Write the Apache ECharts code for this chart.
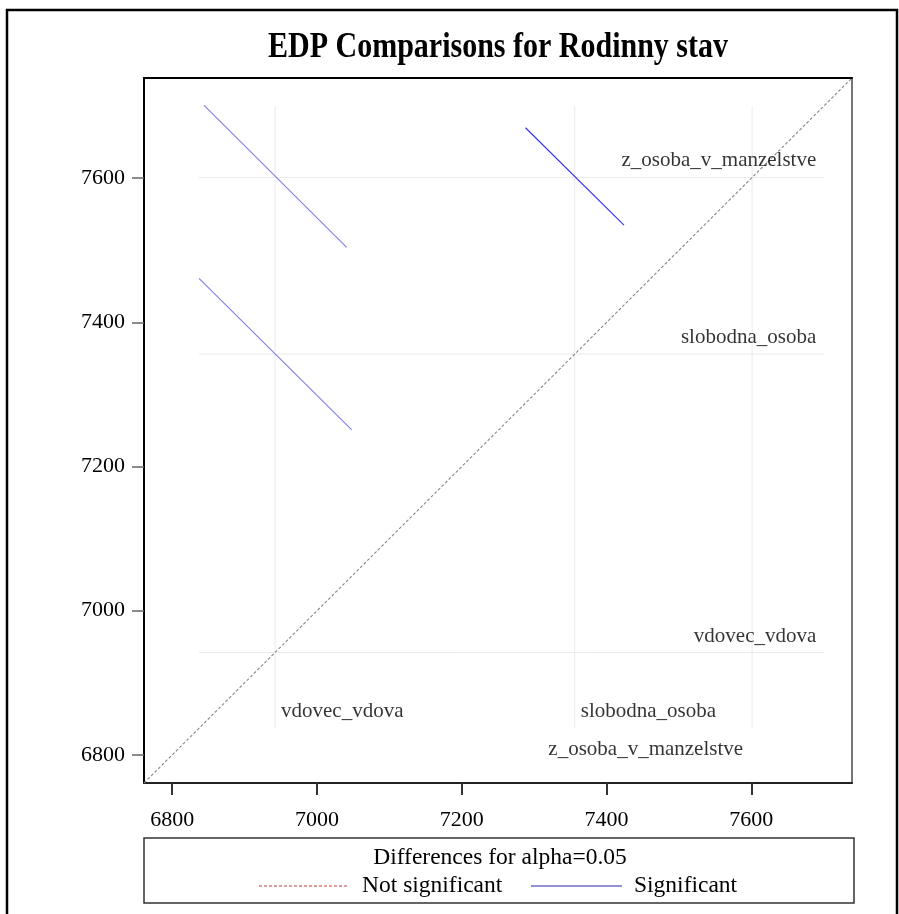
<!DOCTYPE html>
<html>
<head>
<meta charset="utf-8">
<script src="https://cdn.jsdelivr.net/npm/echarts@6/dist/echarts.min.js"></script>
<style>
  html, body { margin: 0; padding: 0; background: #fff; }
  #chart { width: 899px; height: 914px; }
</style>
</head>
<body>
<div id="chart"></div>
<script>
// Axis extent shared by both axes (square diffogram) and tick positions
const axisRange = [6761, 7739];
const tickValues = [6800, 7000, 7200, 7400, 7600];

// Group LS-means and their labels
const groupNames = ['vdovec_vdova', 'slobodna_osoba', 'z_osoba_v_manzelstve'];
const groupMeans = [6942, 7356, 7601];

// Extent of the light reference lines drawn at each mean
const refLineExtent = [6837, 7700];

// Significant pairwise comparison segments: start and end points
const segStartX = [6844, 6837, 7288];
const segStartY = [7701, 7461, 7670];
const segEndX   = [7041, 7048, 7424];
const segEndY   = [7504, 7251, 7535];
const segColors = ['#7e7eea', '#7e7eea', '#2f2fee'];

const serif = '"Liberation Serif", "Times New Roman", serif';
const labelSize = 21;
const legendSize = 23.5;

const series = [];

// Light reference lines at each mean (horizontal and vertical)
groupMeans.forEach(function (m) {
  series.push({
    type: 'line', silent: true, symbol: 'none', z: 1,
    data: [[refLineExtent[0], m], [refLineExtent[1], m]],
    lineStyle: { color: '#ebebeb', width: 1 }
  });
  series.push({
    type: 'line', silent: true, symbol: 'none', z: 1,
    data: [[m, refLineExtent[0]], [m, refLineExtent[1]]],
    lineStyle: { color: '#ebebeb', width: 1 }
  });
});

// Diagonal y = x
series.push({
  type: 'line', silent: true, symbol: 'none', z: 2,
  data: [[axisRange[0], axisRange[0]], [axisRange[1], axisRange[1]]],
  lineStyle: { color: '#888888', width: 1.1, type: [3, 2] }
});

// Comparison segments
segStartX.forEach(function (x0, i) {
  series.push({
    type: 'line', silent: true, symbol: 'none', z: 3,
    color: segColors[i],
    itemStyle: { color: segColors[i] },
    data: [[x0, segStartY[i]], [segEndX[i], segEndY[i]]],
    lineStyle: { color: segColors[i], width: 1.1, opacity: 1 }
  });
});

// Group labels along the right end of horizontal reference lines
series.push({
  type: 'scatter', silent: true, symbolSize: 0, z: 4,
  data: groupMeans.map(function (m, i) { return { value: [refLineExtent[1], m], name: groupNames[i] }; }),
  label: {
    show: true, position: 'left', distance: 0, offset: [-7.5, -16.5],
    formatter: function (p) { return p.name; },
    fontFamily: serif, fontSize: labelSize, color: '#000'
  }
});

// Group labels at the bottom end of vertical reference lines
series.push({
  type: 'scatter', silent: true, symbolSize: 0, z: 4,
  data: groupMeans.map(function (m, i) {
    const last = i === groupMeans.length - 1;
    return {
      value: [m, refLineExtent[0]], name: groupNames[i],
      label: last ? { position: 'left', offset: [-9, 21] } : { position: 'right', offset: [6, -17] }
    };
  }),
  label: {
    show: true, distance: 0,
    formatter: function (p) { return p.name; },
    fontFamily: serif, fontSize: labelSize, color: '#000'
  }
});

const plainNumber = function (v) { return String(v); };

const chart = echarts.init(document.getElementById('chart'), null, { renderer: 'canvas' });

chart.setOption({
  animation: false,
  backgroundColor: '#fff',
  grid: { left: 144, right: 47, top: 78, bottom: 131 },
  xAxis: [{
    type: 'value', min: axisRange[0], max: axisRange[1],
    axisLine: { show: true, lineStyle: { color: '#222', width: 2 } },
    axisTick: { show: true, length: 12, customValues: tickValues, lineStyle: { color: '#333', width: 2 } },
    axisLabel: { customValues: tickValues, formatter: plainNumber, margin: 26, fontFamily: serif, fontSize: 22, color: '#000' },
    splitLine: { show: false }
  }, {
    type: 'value', position: 'top', min: axisRange[0], max: axisRange[1],
    axisLine: { show: true, lineStyle: { color: '#000', width: 2 } },
    axisTick: { show: false }, axisLabel: { show: false }, splitLine: { show: false }
  }],
  yAxis: [{
    type: 'value', min: axisRange[0], max: axisRange[1],
    axisLine: { show: true, lineStyle: { color: '#000', width: 2 } },
    axisTick: { show: true, length: 12, customValues: tickValues, lineStyle: { color: '#666', width: 1.5 } },
    axisLabel: { customValues: tickValues, formatter: plainNumber, margin: 19, fontFamily: serif, fontSize: 22, color: '#000' },
    splitLine: { show: false }
  }, {
    type: 'value', position: 'right', min: axisRange[0], max: axisRange[1],
    axisLine: { show: true, lineStyle: { color: '#777', width: 2 } },
    axisTick: { show: false }, axisLabel: { show: false }, splitLine: { show: false }
  }],
  series: series,
  graphic: [
    // Outer frame
    { type: 'rect', shape: { x: 7, y: 10, width: 890, height: 920 },
      style: { fill: 'none', stroke: '#000', lineWidth: 2.5 }, silent: true },
    // Title, drawn slightly condensed
    { type: 'text', x: 498, y: 48, scaleY: 1.18, silent: true,
      style: { text: 'EDP Comparisons for Rodinny stav', font: 'bold 30px ' + serif, fill: '#000',
               textAlign: 'center', textVerticalAlign: 'middle' } },
    // Legend box
    { type: 'rect', shape: { x: 144, y: 838, width: 710, height: 65 },
      style: { fill: '#fff', stroke: '#333', lineWidth: 1.5 }, silent: true },
    { type: 'text', x: 500, y: 858, silent: true,
      style: { text: 'Differences for alpha=0.05', font: legendSize + 'px ' + serif, fill: '#000', textAlign: 'center', textVerticalAlign: 'middle' } },
    { type: 'line', shape: { x1: 259, y1: 886, x2: 348, y2: 886 }, silent: true,
      style: { stroke: '#c83a3a', lineWidth: 1, lineDash: [3, 2] } },
    { type: 'text', x: 362, y: 886, silent: true,
      style: { text: 'Not significant', font: legendSize + 'px ' + serif, fill: '#000', textAlign: 'left', textVerticalAlign: 'middle' } },
    { type: 'line', shape: { x1: 531, y1: 886, x2: 622, y2: 886 }, silent: true,
      style: { stroke: '#2424b0', lineWidth: 1 } },
    { type: 'text', x: 634, y: 886, silent: true,
      style: { text: 'Significant', font: legendSize + 'px ' + serif, fill: '#000', textAlign: 'left', textVerticalAlign: 'middle' } }
  ]
});
</script>
</body>
</html>
